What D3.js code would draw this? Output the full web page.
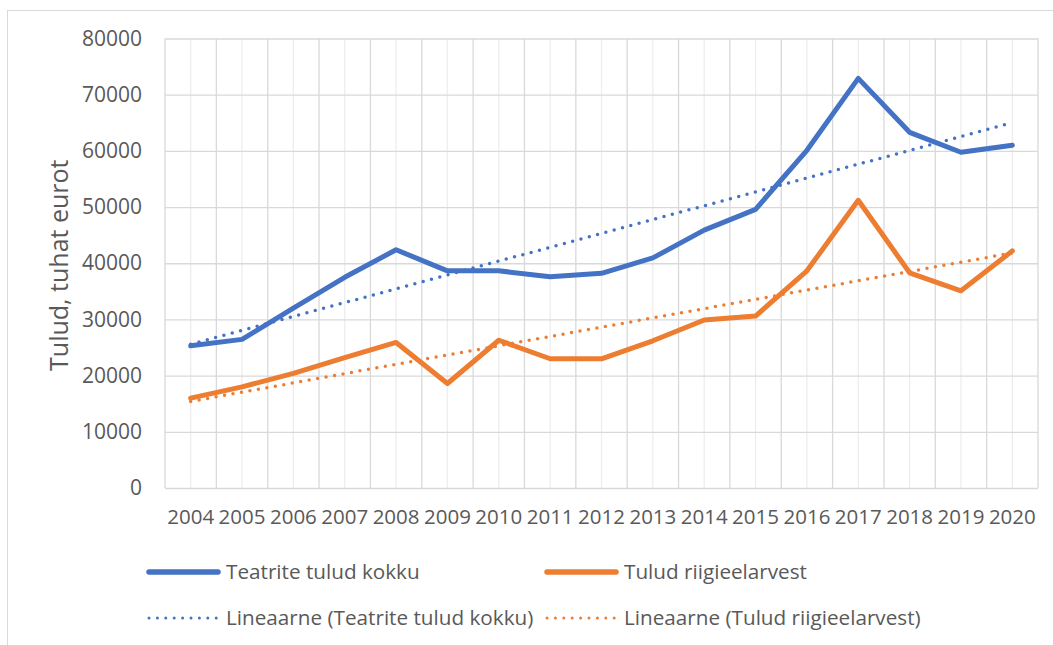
<!DOCTYPE html>
<html>
<head>
<meta charset="utf-8">
<script src="https://cdn.jsdelivr.net/npm/d3@7"></script>
<style>
  body { margin: 0; background: #fff; }
  text { font-family: "Open Sans", sans-serif; fill: #595959; }
</style>
</head>
<body>
<div id="chart"></div>
<script>
const years = ['2004', '2005', '2006', '2007', '2008', '2009', '2010', '2011', '2012',
    '2013', '2014', '2015', '2016', '2017', '2018', '2019', '2020'];
const totalIncome = [25300, 26450, 32000, 37500, 42400, 38650, 38650, 37600, 38200,
    40950, 45900, 49600, 60100, 72900, 63300, 59750, 61000];
const stateIncome = [16000, 18000, 20400, 23200, 25900, 18600, 26300, 23000, 23000,
    26200, 29900, 30600, 38650, 51200, 38300, 35100, 42200];
const yTicks = [0, 10000, 20000, 30000, 40000, 50000, 60000, 70000, 80000];
const seriesNames = ['Teatrite tulud kokku', 'Tulud riigieelarvest'];
const trendNames = ['Lineaarne (Teatrite tulud kokku)', 'Lineaarne (Tulud riigieelarvest)'];
const colors = ['#4472C4', '#ED7D31'];

const W = 1053, H = 645;
const margin = {top: 38.5, right: 15, bottom: 157, left: 165};
const width = W - margin.left - margin.right;
const height = H - margin.top - margin.bottom;

const svg = d3.select('#chart').append('svg')
    .attr('width', W)
    .attr('height', H);

// outer frame
svg.append('rect')
    .attr('x', 7.5).attr('y', 10.5)
    .attr('width', 1200).attr('height', 800)
    .style('fill', 'none')
    .style('stroke', '#d9d9d9');

const g = svg.append('g')
    .attr('transform', 'translate(' + margin.left + ',' + margin.top + ')');

const x = d3.scaleBand()
    .domain(years)
    .range([0, width])
    .padding(0);

const y = d3.scaleLinear()
    .domain([0, 80000])
    .range([height, 0]);

const cx = d => x(d) + x.bandwidth() / 2;

// minor vertical gridlines (category centres)
g.selectAll('.vminor')
    .data(years)
    .enter().append('line')
    .attr('x1', d => cx(d)).attr('x2', d => cx(d))
    .attr('y1', 0).attr('y2', height)
    .style('stroke', '#ededed')
    .style('stroke-width', 1.3);

// major vertical gridlines (category boundaries)
g.selectAll('.vmajor')
    .data(years.concat(['end']))
    .enter().append('line')
    .attr('x1', d => d === 'end' ? width : x(d))
    .attr('x2', d => d === 'end' ? width : x(d))
    .attr('y1', 0).attr('y2', height)
    .style('stroke', '#d9d9d9')
    .style('stroke-width', 1.3);

// horizontal gridlines
g.append('g')
    .call(d3.axisLeft(y).tickValues(yTicks).tickSize(-width).tickFormat(''))
    .call(a => a.select('.domain').remove())
    .call(a => a.selectAll('line').style('stroke', '#d9d9d9').style('stroke-width', 1.3));

// y axis labels
g.append('g')
    .attr('class', 'y-axis')
    .call(d3.axisLeft(y).tickValues(yTicks).tickSize(0).tickPadding(23).tickFormat(d3.format('d')))
    .call(a => a.select('.domain').remove())
    .call(a => a.selectAll('text').style('font-size', '21px').style('fill', '#595959'));

// x axis labels
g.append('g')
    .attr('class', 'x-axis')
    .attr('transform', 'translate(0,' + height + ')')
    .call(d3.axisBottom(x).tickSize(0).tickPadding(21))
    .call(a => a.select('.domain').remove())
    .call(a => a.selectAll('text').style('font-size', '20.5px').style('fill', '#595959'));

// y axis title
svg.append('text')
    .attr('transform', 'translate(68,' + (margin.top + height / 2 + 2) + ') rotate(-90)')
    .attr('text-anchor', 'middle')
    .style('font-size', '25px')
    .text('Tulud, tuhat eurot');

// linear trend (least squares, like Excel's trendline)
function trend(values) {
    const n = values.length;
    const mx = (n - 1) / 2;
    const my = d3.mean(values);
    let sxy = 0, sxx = 0;
    values.forEach((v, i) => { sxy += (i - mx) * (v - my); sxx += (i - mx) * (i - mx); });
    const b = sxy / sxx;
    return values.map((v, i) => my + b * (i - mx));
}

const line = d3.line()
    .x((d, i) => cx(years[i]))
    .y(d => y(d));

[totalIncome, stateIncome].forEach((vals, k) => {
    g.append('path')
        .datum(trend(vals))
        .attr('d', line)
        .style('fill', 'none')
        .style('stroke', colors[k])
        .style('stroke-width', 3.5)
        .style('stroke-linecap', 'round')
        .style('stroke-dasharray', '0 8.6');
});

[stateIncome, totalIncome].forEach((vals, j) => {
    const k = j === 0 ? 1 : 0;
    g.append('path')
        .datum(vals)
        .attr('d', line)
        .style('fill', 'none')
        .style('stroke', colors[k])
        .style('stroke-width', 5)
        .style('stroke-linejoin', 'round')
        .style('stroke-linecap', 'round');
});

// legend
const legendItems = [
    {name: seriesNames[0], color: colors[0], dotted: false, x: 149, y: 572},
    {name: seriesNames[1], color: colors[1], dotted: false, x: 547, y: 572},
    {name: trendNames[0], color: colors[0], dotted: true, x: 149, y: 618},
    {name: trendNames[1], color: colors[1], dotted: true, x: 547, y: 618}
];
const legend = svg.selectAll('.legend')
    .data(legendItems)
    .enter().append('g')
    .attr('transform', d => 'translate(' + d.x + ',' + d.y + ')');

legend.append('line')
    .attr('x1', 0).attr('x2', 69)
    .attr('y1', 0).attr('y2', 0)
    .style('stroke', d => d.color)
    .style('stroke-width', d => d.dotted ? 3 : 5.5)
    .style('stroke-linecap', 'round')
    .style('stroke-dasharray', d => d.dotted ? '0 8.4' : null);

legend.append('text')
    .attr('x', 77)
    .attr('y', 0)
    .attr('dy', '0.35em')
    .style('font-size', '20.7px')
    .text(d => d.name);
</script>
</body>
</html>
